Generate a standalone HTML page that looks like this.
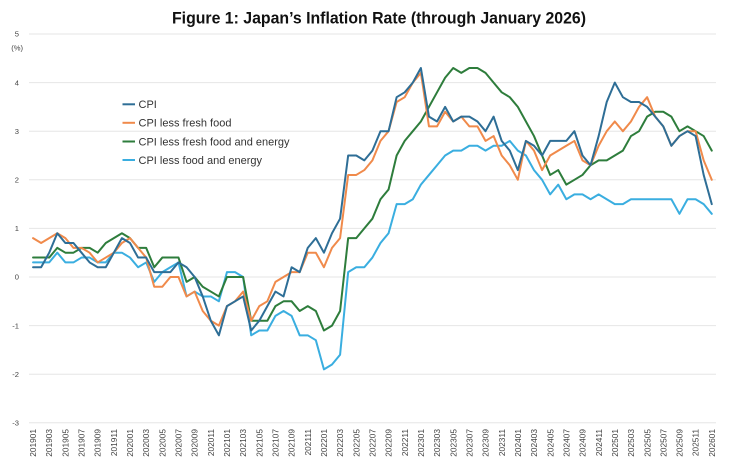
<!DOCTYPE html>
<html><head><meta charset="utf-8"><style>
html,body{margin:0;padding:0;background:#fff;}
svg{display:block;}
text{font-family:"Liberation Sans",sans-serif;}
</style></head><body>
<svg width="730" height="462" viewBox="0 0 730 462" xmlns="http://www.w3.org/2000/svg">
<rect width="730" height="462" fill="#fff"/>
<text x="172" y="23.5" font-size="16.2" font-weight="bold" fill="#111" textLength="414" lengthAdjust="spacingAndGlyphs">Figure 1: Japan’s Inflation Rate (through January 2026)</text>
<g stroke="#e6e6e6" stroke-width="1">
<line x1="29" x2="716" y1="34" y2="34"/>
<line x1="29" x2="716" y1="82.6" y2="82.6"/>
<line x1="29" x2="716" y1="131.2" y2="131.2"/>
<line x1="29" x2="716" y1="179.8" y2="179.8"/>
<line x1="29" x2="716" y1="228.4" y2="228.4"/>
<line x1="29" x2="716" y1="277" y2="277"/>
<line x1="29" x2="716" y1="325.6" y2="325.6"/>
<line x1="29" x2="716" y1="374.2" y2="374.2"/>
<line x1="29" x2="716" y1="422.8" y2="422.8"/>
</g>
<g font-size="7.6" fill="#444" text-anchor="end">
<text x="19" y="36.7">5</text>
<text x="23" y="50.5">(%)</text>
<text x="19" y="85.3">4</text>
<text x="19" y="133.9">3</text>
<text x="19" y="182.5">2</text>
<text x="19" y="231.1">1</text>
<text x="19" y="279.7">0</text>
<text x="19" y="328.3">-1</text>
<text x="19" y="376.9">-2</text>
<text x="19" y="425.5">-3</text>
</g>
<g font-size="8.3" fill="#444" text-anchor="end">
<text transform="translate(36.0,429) rotate(-90)">201901</text>
<text transform="translate(52.2,429) rotate(-90)">201903</text>
<text transform="translate(68.3,429) rotate(-90)">201905</text>
<text transform="translate(84.5,429) rotate(-90)">201907</text>
<text transform="translate(100.7,429) rotate(-90)">201909</text>
<text transform="translate(116.8,429) rotate(-90)">201911</text>
<text transform="translate(133.0,429) rotate(-90)">202001</text>
<text transform="translate(149.1,429) rotate(-90)">202003</text>
<text transform="translate(165.3,429) rotate(-90)">202005</text>
<text transform="translate(181.5,429) rotate(-90)">202007</text>
<text transform="translate(197.6,429) rotate(-90)">202009</text>
<text transform="translate(213.8,429) rotate(-90)">202011</text>
<text transform="translate(230.0,429) rotate(-90)">202101</text>
<text transform="translate(246.1,429) rotate(-90)">202103</text>
<text transform="translate(262.3,429) rotate(-90)">202105</text>
<text transform="translate(278.5,429) rotate(-90)">202107</text>
<text transform="translate(294.6,429) rotate(-90)">202109</text>
<text transform="translate(310.8,429) rotate(-90)">202111</text>
<text transform="translate(327.0,429) rotate(-90)">202201</text>
<text transform="translate(343.1,429) rotate(-90)">202203</text>
<text transform="translate(359.3,429) rotate(-90)">202205</text>
<text transform="translate(375.5,429) rotate(-90)">202207</text>
<text transform="translate(391.6,429) rotate(-90)">202209</text>
<text transform="translate(407.8,429) rotate(-90)">202211</text>
<text transform="translate(424.0,429) rotate(-90)">202301</text>
<text transform="translate(440.1,429) rotate(-90)">202303</text>
<text transform="translate(456.3,429) rotate(-90)">202305</text>
<text transform="translate(472.4,429) rotate(-90)">202307</text>
<text transform="translate(488.6,429) rotate(-90)">202309</text>
<text transform="translate(504.8,429) rotate(-90)">202311</text>
<text transform="translate(520.9,429) rotate(-90)">202401</text>
<text transform="translate(537.1,429) rotate(-90)">202403</text>
<text transform="translate(553.3,429) rotate(-90)">202405</text>
<text transform="translate(569.4,429) rotate(-90)">202407</text>
<text transform="translate(585.6,429) rotate(-90)">202409</text>
<text transform="translate(601.8,429) rotate(-90)">202411</text>
<text transform="translate(617.9,429) rotate(-90)">202501</text>
<text transform="translate(634.1,429) rotate(-90)">202503</text>
<text transform="translate(650.3,429) rotate(-90)">202505</text>
<text transform="translate(666.4,429) rotate(-90)">202507</text>
<text transform="translate(682.6,429) rotate(-90)">202509</text>
<text transform="translate(698.7,429) rotate(-90)">202511</text>
<text transform="translate(714.9,429) rotate(-90)">202601</text>
</g>
<g transform="translate(33.04,277) scale(8.08,-48.6)" fill="none" stroke-width="2" stroke-linejoin="round" stroke-linecap="round">
<polyline vector-effect="non-scaling-stroke" stroke="#3aaee0" points="0,0.3 1,0.3 2,0.3 3,0.5 4,0.3 5,0.3 6,0.4 7,0.4 8,0.3 9,0.3 10,0.5 11,0.5 12,0.4 13,0.2 14,0.3 15,-0.1 16,0.1 17,0.2 18,0.3 19,-0.4 20,-0.3 21,-0.4 22,-0.4 23,-0.5 24,0.1 25,0.1 26,0.0 27,-1.2 28,-1.1 29,-1.1 30,-0.8 31,-0.7 32,-0.8 33,-1.2 34,-1.2 35,-1.3 36,-1.9 37,-1.8 38,-1.6 39,0.1 40,0.2 41,0.2 42,0.4 43,0.7 44,0.9 45,1.5 46,1.5 47,1.6 48,1.9 49,2.1 50,2.3 51,2.5 52,2.6 53,2.6 54,2.7 55,2.7 56,2.6 57,2.7 58,2.7 59,2.8 60,2.6 61,2.5 62,2.2 63,2.0 64,1.7 65,1.9 66,1.6 67,1.7 68,1.7 69,1.6 70,1.7 71,1.6 72,1.5 73,1.5 74,1.6 75,1.6 76,1.6 77,1.6 78,1.6 79,1.6 80,1.3 81,1.6 82,1.6 83,1.5 84,1.3"/>
<polyline vector-effect="non-scaling-stroke" stroke="#2e7d3c" points="0,0.4 1,0.4 2,0.4 3,0.6 4,0.5 5,0.5 6,0.6 7,0.6 8,0.5 9,0.7 10,0.8 11,0.9 12,0.8 13,0.6 14,0.6 15,0.2 16,0.4 17,0.4 18,0.4 19,-0.1 20,0.0 21,-0.2 22,-0.3 23,-0.4 24,0.0 25,0.0 26,0.0 27,-0.9 28,-0.9 29,-0.9 30,-0.6 31,-0.5 32,-0.5 33,-0.7 34,-0.6 35,-0.7 36,-1.1 37,-1.0 38,-0.7 39,0.8 40,0.8 41,1.0 42,1.2 43,1.6 44,1.8 45,2.5 46,2.8 47,3.0 48,3.2 49,3.5 50,3.8 51,4.1 52,4.3 53,4.2 54,4.3 55,4.3 56,4.2 57,4.0 58,3.8 59,3.7 60,3.5 61,3.2 62,2.9 63,2.5 64,2.1 65,2.2 66,1.9 67,2.0 68,2.1 69,2.3 70,2.4 71,2.4 72,2.5 73,2.6 74,2.9 75,3.0 76,3.3 77,3.4 78,3.4 79,3.3 80,3.0 81,3.1 82,3.0 83,2.9 84,2.6"/>
<polyline vector-effect="non-scaling-stroke" stroke="#f08a4b" points="0,0.8 1,0.7 2,0.8 3,0.9 4,0.8 5,0.6 6,0.6 7,0.5 8,0.3 9,0.4 10,0.5 11,0.7 12,0.8 13,0.6 14,0.4 15,-0.2 16,-0.2 17,0.0 18,0.0 19,-0.4 20,-0.3 21,-0.7 22,-0.9 23,-1.0 24,-0.6 25,-0.5 26,-0.3 27,-0.9 28,-0.6 29,-0.5 30,-0.1 31,0.0 32,0.1 33,0.1 34,0.5 35,0.5 36,0.2 37,0.6 38,0.8 39,2.1 40,2.1 41,2.2 42,2.4 43,2.8 44,3.0 45,3.6 46,3.7 47,4.0 48,4.2 49,3.1 50,3.1 51,3.4 52,3.2 53,3.3 54,3.1 55,3.1 56,2.8 57,2.9 58,2.5 59,2.3 60,2.0 61,2.8 62,2.6 63,2.2 64,2.5 65,2.6 66,2.7 67,2.8 68,2.4 69,2.3 70,2.7 71,3.0 72,3.2 73,3.0 74,3.2 75,3.5 76,3.7 77,3.3 78,3.1 79,2.7 80,2.9 81,3.0 82,3.0 83,2.4 84,2.0"/>
<polyline vector-effect="non-scaling-stroke" stroke="#2e6e96" points="0,0.2 1,0.2 2,0.5 3,0.9 4,0.7 5,0.7 6,0.5 7,0.3 8,0.2 9,0.2 10,0.5 11,0.8 12,0.7 13,0.4 14,0.4 15,0.1 16,0.1 17,0.1 18,0.3 19,0.2 20,0.0 21,-0.4 22,-0.9 23,-1.2 24,-0.6 25,-0.5 26,-0.4 27,-1.1 28,-0.9 29,-0.6 30,-0.3 31,-0.4 32,0.2 33,0.1 34,0.6 35,0.8 36,0.5 37,0.9 38,1.2 39,2.5 40,2.5 41,2.4 42,2.6 43,3.0 44,3.0 45,3.7 46,3.8 47,4.0 48,4.3 49,3.3 50,3.2 51,3.5 52,3.2 53,3.3 54,3.3 55,3.2 56,3.0 57,3.3 58,2.8 59,2.6 60,2.2 61,2.8 62,2.7 63,2.5 64,2.8 65,2.8 66,2.8 67,3.0 68,2.5 69,2.3 70,2.9 71,3.6 72,4.0 73,3.7 74,3.6 75,3.6 76,3.5 77,3.3 78,3.1 79,2.7 80,2.9 81,3.0 82,2.9 83,2.1 84,1.5"/>
</g>
<g stroke-width="2">
<line x1="122.5" x2="135" y1="104.3" y2="104.3" stroke="#2e6e96"/>
<line x1="122.5" x2="135" y1="122.8" y2="122.8" stroke="#f08a4b"/>
<line x1="122.5" x2="135" y1="141.5" y2="141.5" stroke="#2e7d3c"/>
<line x1="122.5" x2="135" y1="160" y2="160" stroke="#3aaee0"/>
</g>
<g font-size="11" fill="#333">
<text x="138.5" y="108.2">CPI</text>
<text x="138.5" y="126.7">CPI less fresh food</text>
<text x="138.5" y="145.4" textLength="151" lengthAdjust="spacingAndGlyphs">CPI less fresh food and energy</text>
<text x="138.5" y="163.9">CPI less food and energy</text>
</g>
</svg>
</body></html>
